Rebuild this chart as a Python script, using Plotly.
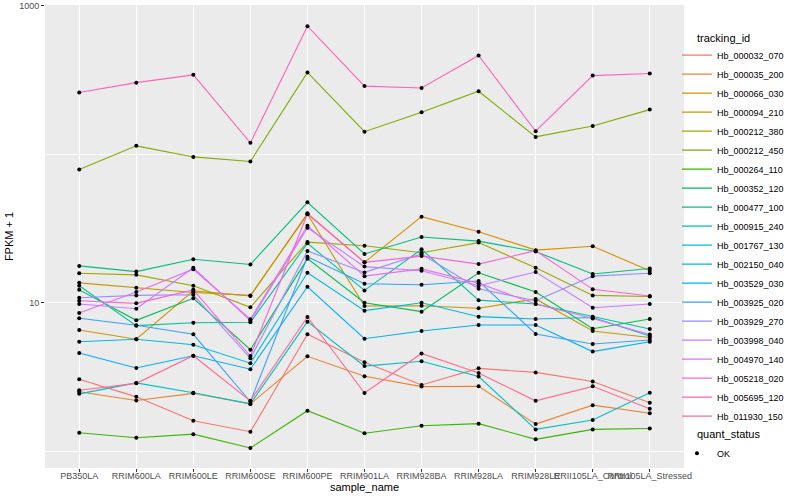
import plotly.graph_objects as go

samples = ["PB350LA", "RRIM600LA", "RRIM600LE", "RRIM600SE", "RRIM600PE", "RRIM901LA",
           "RRIM928BA", "RRIM928LA", "RRIM928LE", "RRII105LA_Control", "RRII105LA_Stressed"]

Hb_000032_070 = [3.05, 2.32, 1.60, 1.35, 6.12, 3.97, 2.79, 3.61, 3.39, 2.94, 2.12]
Hb_000035_200 = [2.51, 2.19, 2.45, 2.08, 4.35, 3.19, 2.72, 2.73, 1.52, 2.04, 1.80]
Hb_000066_030 = [6.55, 5.67, 12.0, 11.1, 40.0, 18.7, 38.0, 30.1, 22.6, 24.0, 16.4]
Hb_000094_210 = [13.6, 12.6, 11.7, 11.2, 39.4, 9.5, 9.54, 9.18, 10.6, 6.45, 5.83]
Hb_000212_380 = [15.8, 15.4, 13.0, 9.31, 25.6, 24.2, 21.7, 25.4, 17.2, 11.2, 11.0]
Hb_000212_450 = [79, 114, 96, 89.5, 356, 142, 192, 266, 131, 155, 200]
Hb_000264_110 = [1.33, 1.23, 1.30, 1.05, 1.87, 1.32, 1.48, 1.53, 1.20, 1.40, 1.42]
Hb_000352_120 = [12.2, 7.61, 10.7, 4.82, 19.8, 10.0, 8.70, 15.9, 11.8, 6.68, 7.77]
Hb_000477_100 = [17.7, 16.2, 19.6, 18.1, 47.5, 21.3, 27.7, 26.0, 22.1, 15.6, 17.0]
Hb_000915_240 = [13.0, 7.00, 7.33, 7.38, 25.1, 12.1, 22.9, 10.4, 9.8, 8.05, 6.65]
Hb_001767_130 = [2.43, 2.88, 2.47, 2.08, 7.45, 3.74, 4.03, 3.18, 1.40, 1.62, 2.47]
Hb_002150_040 = [5.46, 5.67, 5.21, 3.91, 15.9, 8.84, 10.0, 8.05, 7.77, 7.95, 5.97]
Hb_003529_030 = [4.58, 3.63, 4.39, 3.56, 12.8, 5.72, 6.45, 7.07, 7.07, 4.68, 5.46]
Hb_003925_020 = [7.85, 7.04, 6.12, 2.15, 20.4, 13.4, 13.2, 14.0, 6.15, 5.27, 5.61]
Hb_003929_270 = [10.8, 11.2, 11.3, 4.22, 22.3, 16.0, 21.3, 12.4, 10.3, 15.1, 15.8]
Hb_003998_040 = [9.8, 9.11, 17.2, 7.56, 32.0, 17.5, 16.4, 13.0, 16.1, 9.25, 9.8]
Hb_004970_140 = [8.52, 11.8, 16.8, 7.73, 33.0, 15.1, 16.9, 13.5, 9.8, 7.82, 6.11]
Hb_005218_020 = [10.3, 9.9, 12.2, 4.37, 39.6, 18.7, 20.6, 18.2, 22.4, 12.3, 11.1]
Hb_005695_120 = [261, 304, 343, 119.5, 730, 288, 280, 463, 143, 339, 350]
Hb_011930_150 = [2.57, 2.86, 4.39, 2.18, 8.01, 2.46, 4.55, 3.36, 2.18, 2.73, 1.93]

tracking_ids = ["Hb_000032_070", "Hb_000035_200", "Hb_000066_030", "Hb_000094_210",
                "Hb_000212_380", "Hb_000212_450", "Hb_000264_110", "Hb_000352_120",
                "Hb_000477_100", "Hb_000915_240", "Hb_001767_130", "Hb_002150_040",
                "Hb_003529_030", "Hb_003925_020", "Hb_003929_270", "Hb_003998_040",
                "Hb_004970_140", "Hb_005218_020", "Hb_005695_120", "Hb_011930_150"]
values = [Hb_000032_070, Hb_000035_200, Hb_000066_030, Hb_000094_210, Hb_000212_380,
          Hb_000212_450, Hb_000264_110, Hb_000352_120, Hb_000477_100, Hb_000915_240,
          Hb_001767_130, Hb_002150_040, Hb_003529_030, Hb_003925_020, Hb_003929_270,
          Hb_003998_040, Hb_004970_140, Hb_005218_020, Hb_005695_120, Hb_011930_150]
colors = ["#F8766D", "#EA8331", "#D89000", "#C09B00", "#A3A500", "#7CAE00", "#39B600",
          "#00BB4E", "#00BF7D", "#00C1A3", "#00BFC4", "#00BAE0", "#00B0F6", "#35A2FF",
          "#9590FF", "#C77CFF", "#E76BF3", "#FA62DB", "#FF62BC", "#FF6C91"]

FONT = "Liberation Sans, Arial, sans-serif"

fig = go.Figure()
for name, vals, col in zip(tracking_ids, values, colors):
    fig.add_trace(go.Scatter(x=samples, y=vals, mode="lines", name=name,
                             line=dict(color=col, width=1.1), legend="legend"))
for i, (name, vals) in enumerate(zip(tracking_ids, values)):
    fig.add_trace(go.Scatter(x=samples, y=vals, mode="markers", name="OK",
                             marker=dict(color="black", size=4, symbol="circle"),
                             showlegend=(i == 0), legend="legend2", hoverinfo="skip"))

fig.update_layout(
    width=800, height=500,
    margin=dict(l=45, r=116, t=5, b=32, autoexpand=False),
    paper_bgcolor="white", plot_bgcolor="#EBEBEB",
    font=dict(family=FONT, size=9, color="#4D4D4D"),
    xaxis=dict(type="category", range=[-0.6, 10.6], showgrid=True, gridcolor="white",
               gridwidth=1.1, ticks="outside", ticklen=3, tickcolor="#333333", tickangle=0,
               ticklabelstandoff=-4,
               tickfont=dict(size=9, color="#4D4D4D"), zeroline=False, showline=False,
               automargin=False,
               title=dict(text="sample_name", font=dict(size=11, color="black"), standoff=3)),
    yaxis=dict(type="log", range=[-0.114, 3.006], tickvals=[10, 1000], ticktext=["10", "1000"],
               showgrid=True, gridcolor="white", gridwidth=1.1, ticks="outside", ticklen=3,
               tickcolor="#333333", tickfont=dict(size=9, color="#4D4D4D"), zeroline=False,
               automargin=False,
               minor=dict(tickvals=[1, 100], showgrid=True, gridcolor="white", gridwidth=0.5, ticks=""),
               title=dict(text="FPKM + 1", font=dict(size=11, color="black"), standoff=3)),
    legend=dict(x=0.989, y=0.923, xanchor="left", yanchor="top", bgcolor="rgba(0,0,0,0)",
                font=dict(size=9, color="black"), itemwidth=30, tracegroupgap=0),
    legend2=dict(x=0.989, y=0.063, xanchor="left", yanchor="top", bgcolor="rgba(0,0,0,0)",
                 font=dict(size=9, color="black"), itemwidth=30),
    annotations=[
        dict(text="tracking_id", xref="paper", yref="paper", x=1.0172, y=(468 - 38) / 463,
             xanchor="left", yanchor="middle", showarrow=False,
             font=dict(size=11, color="black", family=FONT)),
        dict(text="quant_status", xref="paper", yref="paper", x=1.0172, y=(468 - 434) / 463,
             xanchor="left", yanchor="middle", showarrow=False,
             font=dict(size=11, color="black", family=FONT)),
    ],
)

fig.write_html("out.html", config={"displayModeBar": False},
               post_script="document.body.style.margin='0';document.body.style.padding='0';")
